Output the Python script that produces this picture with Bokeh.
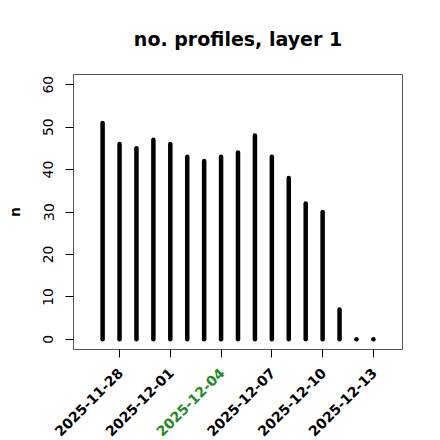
import math
import pandas as pd
from bokeh.plotting import figure
from bokeh.layouts import column
from bokeh.models import Range1d, FixedTicker, ColumnDataSource, CustomJSTickFormatter
from bokeh.core.properties import value
from bokeh.embed import file_html
from bokeh.resources import INLINE

# ---- data ----
dates = pd.date_range("2025-11-27", "2025-12-13", freq="D")
n_profiles = [51, 46, 45, 47, 46, 43, 42, 43, 44, 48, 43, 38, 32, 30, 7, 0, 0]
tick_dates = ["2025-11-28", "2025-12-01", "2025-12-04", "2025-12-07", "2025-12-10", "2025-12-13"]
tick_colors = ["black", "black", "#228B22", "black", "black", "black"]
y_ticks = [0, 10, 20, 30, 40, 50, 60]
title_text = "no. profiles, layer 1"
y_label = "n"

FONT = "DejaVu Sans"

LEFT, RIGHT, TOP = 73, 22, 73
FW, FH = 329, 275

x_start = pd.Timestamp("2025-11-26") - pd.Timedelta(days=0.72)
x_end = pd.Timestamp("2025-12-14") + pd.Timedelta(days=0.72)

p = figure(frame_width=FW, frame_height=FH,
           min_border_left=LEFT, min_border_right=RIGHT,
           min_border_top=TOP, min_border_bottom=12,
           x_axis_type="datetime",
           x_range=Range1d(x_start, x_end), y_range=Range1d(-2.4, 62.4),
           output_backend="svg", toolbar_location=None)
try:
    p.frame_align = False
except Exception:
    pass

p.background_fill_color = "white"
p.border_fill_color = "white"
p.outline_line_color = "#555555"
p.outline_line_width = 1
p.xgrid.visible = False
p.ygrid.visible = False

p.title.text = title_text
p.title.align = "center"
p.title.text_font = FONT
p.title.text_font_style = "bold"
p.title.text_font_size = "19px"
p.title.text_color = "black"
try:
    p.title.standoff = 50
except Exception:
    pass

src = ColumnDataSource(dict(x=dates, y0=[0] * len(dates), y1=n_profiles))
p.segment(x0="x", y0="y0", x1="x", y1="y1", source=src,
          line_color="black", line_width=4.5, line_cap="round")

xa = p.xaxis[0]
xa.ticker = FixedTicker(ticks=[pd.Timestamp(d).value / 1e6 for d in tick_dates])
xa.formatter = CustomJSTickFormatter(code="return ''")
xa.axis_line_color = None
xa.major_tick_out = 8
xa.major_tick_in = 0
xa.minor_tick_line_color = None
xa.major_tick_line_color = "black"
xa.major_label_text_font_size = "1px"
xa.major_label_standoff = 0

ya = p.yaxis[0]
ya.ticker = FixedTicker(ticks=y_ticks)
ya.axis_line_color = None
ya.major_tick_out = 8
ya.major_tick_in = 0
ya.minor_tick_line_color = None
ya.major_tick_line_color = "black"
ya.major_label_orientation = "vertical"
ya.major_label_text_font = FONT
ya.major_label_text_font_size = "14px"
ya.major_label_text_color = "black"
ya.major_label_standoff = 12
ya.axis_label = y_label
ya.axis_label_text_font = FONT
ya.axis_label_text_font_style = "bold"
ya.axis_label_text_font_size = "14px"
ya.axis_label_text_color = "black"
ya.axis_label_standoff = 18

# ---- rotated, individually coloured date labels below the axis ----
per_px = (x_end - x_start) / FW
p2 = figure(frame_width=LEFT + FW + RIGHT, frame_height=80,
            min_border_left=0, min_border_right=0,
            min_border_top=0, min_border_bottom=0,
            x_axis_type="datetime",
            x_range=Range1d(x_start - LEFT * per_px, x_end + RIGHT * per_px),
            y_range=Range1d(0, 1),
            x_axis_location=None, y_axis_location=None,
            output_backend="svg", toolbar_location=None)
try:
    p2.frame_align = False
except Exception:
    pass
p2.title.visible = False
p2.outline_line_color = None
p2.background_fill_color = "white"
p2.border_fill_color = "white"
p2.xgrid.visible = False
p2.ygrid.visible = False

lab = ColumnDataSource(dict(x=pd.to_datetime(tick_dates), y=[1] * len(tick_dates),
                            text=tick_dates, color=tick_colors))
p2.text(x="x", y="y", text="text", source=lab, text_color="color",
        angle=math.pi / 4, text_align="right", text_baseline="middle",
        x_offset=1, y_offset=9,
        text_font=value(FONT), text_font_style="bold", text_font_size="14px")

layout = column(p, p2, spacing=0)
open("out.html", "w").write(file_html(layout, INLINE))
